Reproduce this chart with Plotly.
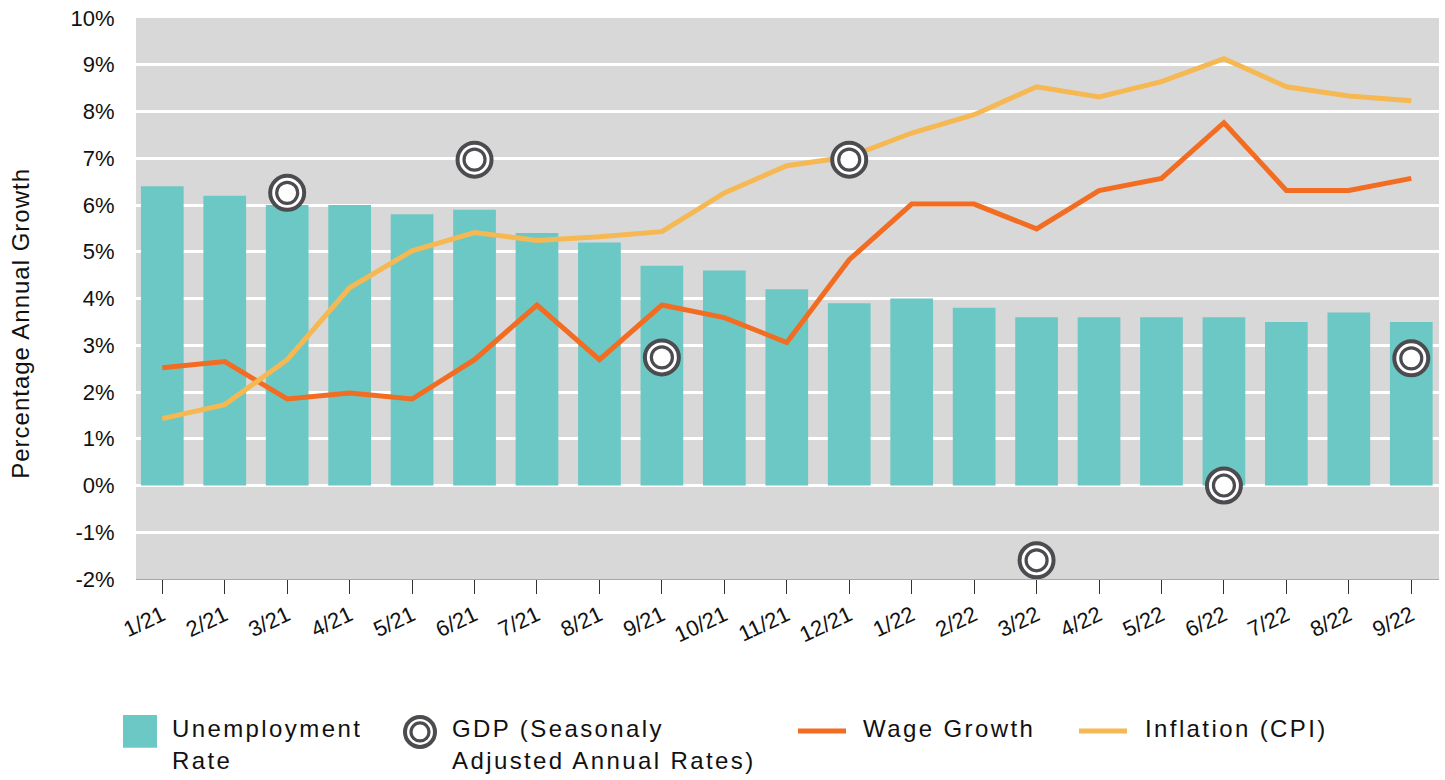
import plotly.graph_objects as go

months = ["1/21", "2/21", "3/21", "4/21", "5/21", "6/21", "7/21", "8/21", "9/21", "10/21",
          "11/21", "12/21", "1/22", "2/22", "3/22", "4/22", "5/22", "6/22", "7/22", "8/22", "9/22"]
unemployment = [6.4, 6.2, 6.0, 6.0, 5.8, 5.9, 5.4, 5.2, 4.7, 4.6, 4.2, 3.9, 4.0, 3.8, 3.6, 3.6,
                3.6, 3.6, 3.5, 3.7, 3.5]
wage_growth = [2.52, 2.65, 1.85, 1.98, 1.85, 2.69, 3.86, 2.69, 3.86, 3.59, 3.06, 4.83, 6.02,
               6.02, 5.49, 6.31, 6.57, 7.76, 6.31, 6.31, 6.57]
inflation = [1.43, 1.73, 2.69, 4.23, 5.02, 5.41, 5.24, 5.32, 5.43, 6.26, 6.84, 7.03, 7.54,
             7.93, 8.53, 8.31, 8.64, 9.13, 8.53, 8.33, 8.23]
gdp_months = ["3/21", "6/21", "9/21", "12/21", "3/22", "6/22", "9/22"]
gdp = [6.26, 6.97, 2.74, 6.97, -1.6, 0.0, 2.72]
y_ticks = list(range(-2, 11))
y_tick_text = [f"{v}%" for v in y_ticks]

TEAL = "#6cc8c4"
ORANGE = "#f26c22"
YELLOW = "#f5b852"
RING = "#4b4b50"
BG = "#d8d8d8"
FONT = "Liberation Sans, Arial, sans-serif"

# plot area in pixels
L, R, T, B = 136, 1439, 14, 579
W_PX, H_PX = 1445, 780


def px(x):
    return (x - L) / (R - L)


def py(y):
    return (B - y) / (B - T)


fig = go.Figure()
fig.add_trace(go.Bar(x=months, y=unemployment, marker=dict(color=TEAL, line=dict(width=0)),
                     name="Unemployment Rate", showlegend=False))
fig.add_trace(go.Scatter(x=months, y=wage_growth, mode="lines", line=dict(color=ORANGE, width=5),
                         name="Wage Growth", showlegend=False))
fig.add_trace(go.Scatter(x=months, y=inflation, mode="lines", line=dict(color=YELLOW, width=5),
                         name="Inflation (CPI)", showlegend=False))
fig.add_trace(go.Scatter(x=gdp_months, y=gdp, mode="markers", cliponaxis=False,
                         marker=dict(size=34, color="white", line=dict(color=RING, width=4)),
                         name="GDP", showlegend=False))
fig.add_trace(go.Scatter(x=gdp_months, y=gdp, mode="markers", cliponaxis=False,
                         marker=dict(size=21, color="white", line=dict(color=RING, width=3.2)),
                         name="GDP inner", showlegend=False, hoverinfo="skip"))

shapes = []
annotations = []
LS = "letter-spacing:2.4px"


def legend_text(x, y, text):
    annotations.append(dict(xref="paper", yref="paper", x=px(x), y=py(y), xanchor="left",
                            yanchor="middle", showarrow=False,
                            text=f'<span style="{LS}">{text}</span>',
                            font=dict(family=FONT, size=24, color="#111111")))


# Unemployment swatch
shapes.append(dict(type="rect", xref="paper", yref="paper", x0=px(123), x1=px(157),
                   y0=py(749), y1=py(716), fillcolor=TEAL, line=dict(width=0)))
legend_text(170, 730, "Unemployment")
legend_text(170, 762, "Rate")

# GDP double circle
cx, cy = px(420), py(733)
shapes.append(dict(type="circle", xref="paper", yref="paper", xsizemode="pixel", ysizemode="pixel",
                   xanchor=cx, yanchor=cy, x0=-15, x1=15, y0=-15, y1=15,
                   fillcolor="white", line=dict(color=RING, width=4)))
shapes.append(dict(type="circle", xref="paper", yref="paper", xsizemode="pixel", ysizemode="pixel",
                   xanchor=cx, yanchor=cy, x0=-9, x1=9, y0=-9, y1=9,
                   fillcolor="white", line=dict(color=RING, width=3.2)))
legend_text(450, 730, "GDP (Seasonaly")
legend_text(450, 762, "Adjusted Annual Rates)")

# Wage growth line
shapes.append(dict(type="line", xref="paper", yref="paper", x0=px(798), x1=px(846),
                   y0=py(732), y1=py(732), line=dict(color=ORANGE, width=5)))
legend_text(861, 730, "Wage Growth")

# Inflation line
shapes.append(dict(type="line", xref="paper", yref="paper", x0=px(1079), x1=px(1127),
                   y0=py(732), y1=py(732), line=dict(color=YELLOW, width=5)))
legend_text(1143, 730, "Inflation (CPI)")

# y-axis title
annotations.append(dict(xref="paper", yref="paper", x=px(21), y=py(322), xanchor="center",
                        yanchor="middle", showarrow=False, textangle=-90,
                        text='<span style="letter-spacing:1px">Percentage Annual Growth</span>',
                        font=dict(family=FONT, size=24, color="#111111")))

fig.update_layout(
    width=W_PX, height=H_PX,
    margin=dict(l=L, r=W_PX - R, t=T, b=H_PX - B, pad=0),
    paper_bgcolor="white", plot_bgcolor=BG,
    bargap=0.316,
    showlegend=False,
    shapes=shapes, annotations=annotations,
    font=dict(family=FONT, color="#111111"),
)
fig.update_xaxes(
    type="category", range=[-0.421, 20.444],
    showgrid=False, zeroline=False,
    showline=True, linecolor="#a8a8a8", linewidth=1,
    ticks="outside", ticklen=14, tickwidth=1, tickcolor="#333333",
    tickangle=-25, tickfont=dict(family=FONT, size=22, color="#111111"),
)
fig.update_yaxes(
    range=[-2, 10], tickvals=y_ticks, ticktext=y_tick_text,
    showgrid=True, gridcolor="white", gridwidth=3,
    zeroline=True, zerolinecolor="white", zerolinewidth=3,
    showline=False,
    ticks="outside", ticklen=16, tickcolor="rgba(0,0,0,0)",
    tickfont=dict(family=FONT, size=22, color="#111111"),
)

fig.write_html(
    "out.html",
    config={"displayModeBar": False},
    post_script="document.body.style.margin='0';document.body.style.overflow='hidden';",
)
